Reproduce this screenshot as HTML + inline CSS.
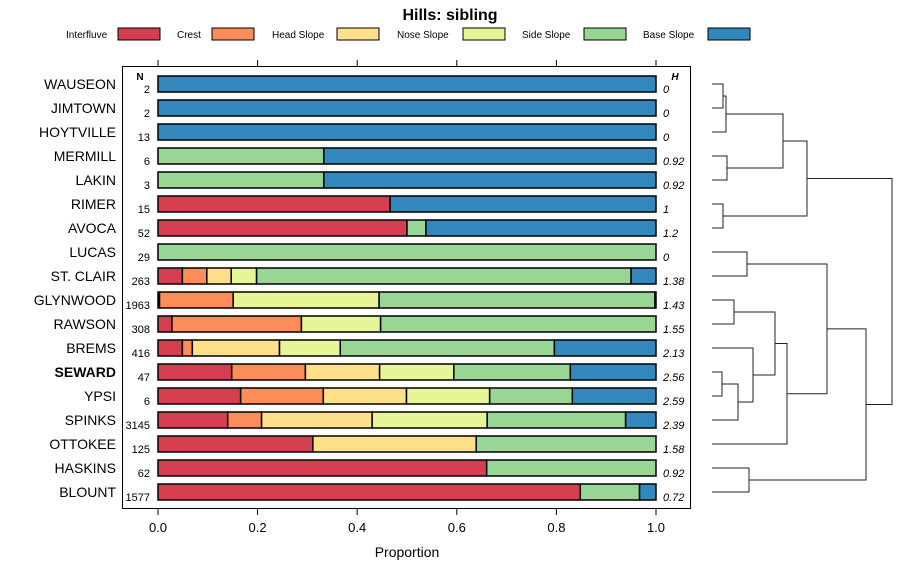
<!DOCTYPE html>
<html><head><meta charset="utf-8"><style>
body{margin:0;background:#fff;font-family:"Liberation Sans",sans-serif}
</style></head><body>
<svg id="c" width="900" height="580" xmlns="http://www.w3.org/2000/svg" font-family="Liberation Sans, sans-serif"></svg>
<script>
const categories=["Interfluve","Crest","Head Slope","Nose Slope","Side Slope","Base Slope"];
const colors=["#D53E4F","#FC8D59","#FEE08B","#E6F598","#99D594","#3288BD"];
const series=["WAUSEON","JIMTOWN","HOYTVILLE","MERMILL","LAKIN","RIMER","AVOCA","LUCAS","ST. CLAIR","GLYNWOOD","RAWSON","BREMS","SEWARD","YPSI","SPINKS","OTTOKEE","HASKINS","BLOUNT"];
const nValues=["2","2","13","6","3","15","52","29","263","1963","308","416","47","6","3145","125","62","1577"];
const hValues=["0","0","0","0.92","0.92","1","1.2","0","1.38","1.43","1.55","2.13","2.56","2.59","2.39","1.58","0.92","0.72"];
const interfluve=[0,0,0,0,0,0.466,0.5,0,0.049,0.003,0.028,0.049,0.148,0.166,0.14,0.311,0.66,0.848];
const crest=[0,0,0,0,0,0,0,0,0.049,0.148,0.26,0.02,0.148,0.166,0.068,0,0,0];
const headSlope=[0,0,0,0,0,0,0,0,0.049,0,0,0.175,0.149,0.167,0.222,0.328,0,0];
const noseSlope=[0,0,0,0,0,0,0,0,0.051,0.293,0.159,0.122,0.149,0.167,0.231,0,0,0];
const sideSlope=[0,0,0,0.333,0.333,0,0.038,1,0.752,0.554,0.553,0.43,0.234,0.166,0.278,0.361,0.34,0.119];
const baseSlope=[1,1,1,0.667,0.667,0.534,0.462,0,0.05,0.002,0,0.204,0.172,0.168,0.061,0,0,0.033];
const ticks=[0,0.2,0.4,0.6,0.8,1.0];
const tickLabels=["0.0","0.2","0.4","0.6","0.8","1.0"];
const merges=[[-0,-1,723],[1,-2,726],[-3,-4,727],[2,3,783],[-5,-6,723],[4,5,807],[-7,-8,747],[-9,-10,734],[-12,-13,722],[9,-14,738],[-11,10,753],[8,11,775],[12,-15,787],[7,13,827],[-16,-17,749],[14,15,866],[6,16,892]];
const stacks=[interfluve,crest,headSlope,noseSlope,sideSlope,baseSlope];
const NS="http://www.w3.org/2000/svg",svg=document.getElementById('c');
function el(t,a,txt){const e=document.createElementNS(NS,t);for(const k in a)e.setAttribute(k,a[k]);if(txt!=null)e.textContent=txt;svg.appendChild(e);return e;}
const X=v=>158+v*498, Y=i=>84+i*24;
let t=el('text',{x:450,y:20,'text-anchor':'middle','font-size':16,'font-weight':'bold'},'Hills: sibling');

const legX=[[66,118],[177,212],[272,337],[397,463],[522,584],[643,708]];
categories.forEach((c,i)=>{
 let tx=el('text',{x:legX[i][0],y:38,'font-size':10},c);
 
 let r=el('rect',{x:legX[i][1],y:28,width:42,height:12,fill:colors[i],stroke:'#000','stroke-width':1});
 
});
let p=el('rect',{x:122.5,y:66.5,width:568,height:442,fill:'none',stroke:'#000','stroke-width':1});

ticks.forEach((v,i)=>{
 el('line',{x1:X(v),x2:X(v),y1:60,y2:66,stroke:'#000'});
 el('line',{x1:X(v),x2:X(v),y1:509,y2:515,stroke:'#000'});
 let l=el('text',{x:X(v),y:532,'text-anchor':'middle','font-size':13},tickLabels[i]);
 
});
let xt=el('text',{x:407,y:557,'text-anchor':'middle','font-size':14},'Proportion');

el('text',{x:140,y:80,'text-anchor':'middle','font-size':10,'font-weight':'bold'},'N');
el('text',{x:675,y:80,'text-anchor':'middle','font-size':10,'font-weight':'bold','font-style':'italic'},'H');
series.forEach((s,i)=>{
 const y=Y(i);
 let lb=el('text',{x:116,y:y+5,'text-anchor':'end','font-size':14,'font-weight':s==='SEWARD'?'bold':'normal'},s);
 
 let n=el('text',{x:150,y:y+9,'text-anchor':'end','font-size':11},nValues[i]);
 
 let h=el('text',{x:663,y:y+9,'font-size':11,'font-style':'italic'},hValues[i]);
 
 let acc=0;
 stacks.forEach((arr,k)=>{
  const v=arr[i]; if(v<=0)return;
  let r=el('rect',{x:X(acc),y:y-8,width:X(acc+v)-X(acc),height:16,fill:colors[k],stroke:'#000','stroke-width':1.5});
  
  acc+=v;
 });
});
const nodes=[];
function pos(ref){ if(ref<=0) return {x:712,y:Y(-ref)}; return nodes[ref-1]; }
merges.forEach(m=>{
 const a=pos(m[0]),b=pos(m[1]),h=m[2];
 let pl=el('polyline',{points:`${a.x},${a.y} ${h},${a.y} ${h},${b.y} ${b.x},${b.y}`,fill:'none',stroke:'#222','stroke-width':1});
 
 nodes.push({x:h,y:(a.y+b.y)/2});
});
</script>
</body></html>
